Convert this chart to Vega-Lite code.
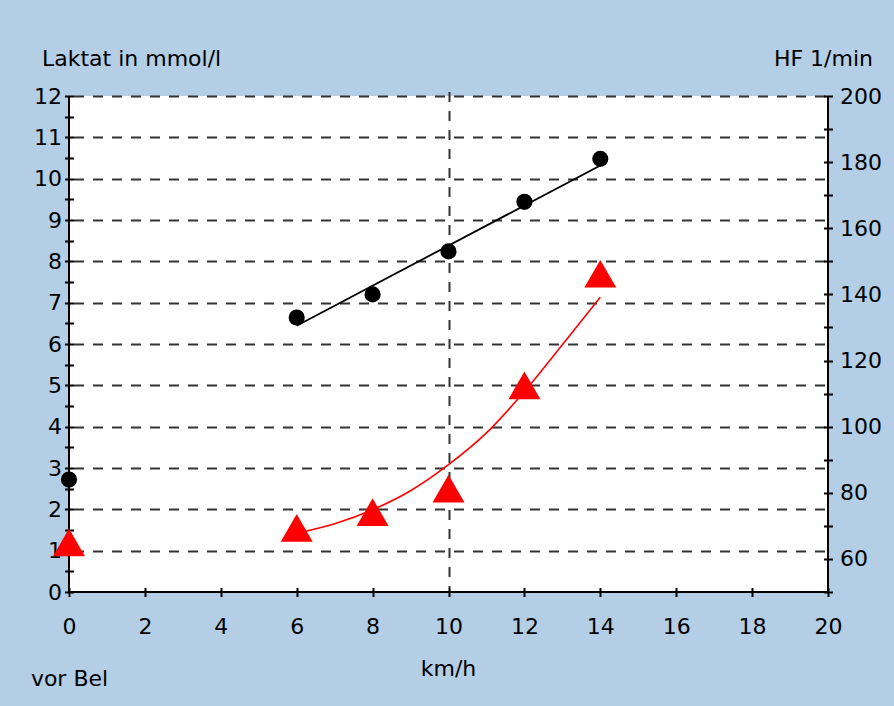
{
  "$schema": "https://vega.github.io/schema/vega-lite/v6.json",
  "width": 759,
  "height": 496,
  "autosize": {"type": "none"},
  "padding": {"left": 69, "top": 96, "right": 66, "bottom": 114},
  "background": "#b4cee6",
  "config": {
    "view": {"fill": "white", "stroke": null},
    "font": "DejaVu Sans",
    "axis": {
      "labelFont": "DejaVu Sans",
      "titleFont": "DejaVu Sans",
      "labelFontSize": 22,
      "titleFontSize": 22,
      "labelColor": "black",
      "titleColor": "black",
      "titleFontWeight": "normal",
      "tickColor": "black",
      "tickWidth": 2,
      "tickSize": 9,
      "domain": false,
      "offset": -4.5,
      "gridColor": "#333333",
      "gridWidth": 2,
      "gridDash": [10, 9],
      "labelOverlap": false,
      "labelFlush": false
    }
  },
  "datasets": {
    "lactate": [
      {"kmh": 0, "laktat": 1.2},
      {"kmh": 6, "laktat": 1.55},
      {"kmh": 8, "laktat": 1.93},
      {"kmh": 10, "laktat": 2.5},
      {"kmh": 12, "laktat": 5.0},
      {"kmh": 14, "laktat": 7.7}
    ],
    "lactateCurve": [
      {"kmh": 6, "laktat": 1.42},
      {"kmh": 7, "laktat": 1.65},
      {"kmh": 8, "laktat": 1.99},
      {"kmh": 9, "laktat": 2.45},
      {"kmh": 10, "laktat": 3.08},
      {"kmh": 11, "laktat": 3.85},
      {"kmh": 12, "laktat": 4.85},
      {"kmh": 13, "laktat": 5.98},
      {"kmh": 14, "laktat": 7.13}
    ],
    "hf": [
      {"kmh": 0, "hf": 84},
      {"kmh": 6, "hf": 133},
      {"kmh": 8, "hf": 140},
      {"kmh": 10, "hf": 153},
      {"kmh": 12, "hf": 168},
      {"kmh": 14, "hf": 181}
    ],
    "hfFit": [
      {"kmh": 6, "hf": 130.5},
      {"kmh": 14, "hf": 179}
    ]
  },
  "layer": [
    {
      "data": {"name": "lactateCurve"},
      "mark": {"type": "line", "color": "#ff0000", "strokeWidth": 1.6, "interpolate": "monotone"},
      "encoding": {
        "x": {
          "field": "kmh",
          "type": "quantitative",
          "scale": {"domain": [0, 20], "nice": false, "zero": false},
          "axis": {
            "values": [0, 1, 2, 3, 4, 5, 6, 7, 8, 9, 10, 11, 12, 13, 14, 15, 16, 17, 18, 19, 20],
            "labelExpr": "datum.value == 0 ? ['0', 'vor Bel'] : (datum.value % 2 == 0 ? format(datum.value, 'd') : '')",
            "labelPadding": 20,
            "labelLineHeight": 52,
            "grid": true,
            "gridOpacity": {"condition": {"test": "datum.value == 10", "value": 1}, "value": 0},
            "title": "km/h",
            "titleX": 379,
            "titleY": 88,
            "titleAlign": "center",
            "titleBaseline": "alphabetic"
          }
        },
        "y": {
          "field": "laktat",
          "type": "quantitative",
          "scale": {"domain": [0, 12], "nice": false},
          "axis": {
            "orient": "left",
            "values": [0, 0.5, 1, 1.5, 2, 2.5, 3, 3.5, 4, 4.5, 5, 5.5, 6, 6.5, 7, 7.5, 8, 8.5, 9, 9.5, 10, 10.5, 11, 11.5, 12],
            "labelExpr": "datum.value % 1 == 0 ? format(datum.value, 'd') : ''",
            "labelPadding": 3,
            "grid": true,
            "gridOpacity": {"condition": {"test": "datum.value % 1 == 0 && datum.value > 0", "value": 1}, "value": 0},
            "title": "Laktat in mmol/l",
            "titleAngle": 0,
            "titleAlign": "left",
            "titleBaseline": "alphabetic",
            "titleX": -32,
            "titleY": -31
          }
        }
      }
    },
    {
      "data": {"values": [{}]},
      "mark": {"type": "rule", "color": "black", "strokeWidth": 2},
      "encoding": {"x": {"datum": 0, "type": "quantitative"}}
    },
    {
      "data": {"values": [{}]},
      "mark": {"type": "rule", "color": "black", "strokeWidth": 2},
      "encoding": {"x": {"datum": 20, "type": "quantitative"}}
    },
    {
      "data": {"values": [{}]},
      "mark": {"type": "rule", "color": "black", "strokeWidth": 2},
      "encoding": {"y": {"datum": 0, "type": "quantitative", "scale": {"domain": [0, 12], "nice": false}, "axis": null}}
    },
    {
      "data": {"name": "lactate"},
      "mark": {"type": "point", "shape": "triangle-up", "filled": true, "color": "#ff0000", "size": 1024, "opacity": 1},
      "encoding": {
        "x": {"field": "kmh", "type": "quantitative"},
        "y": {"field": "laktat", "type": "quantitative", "scale": {"domain": [0, 12], "nice": false}, "axis": null}
      }
    },
    {
      "data": {"name": "hfFit"},
      "mark": {"type": "line", "color": "black", "strokeWidth": 1.8},
      "encoding": {
        "x": {"field": "kmh", "type": "quantitative"},
        "y": {
          "field": "hf",
          "type": "quantitative",
          "scale": {"domain": [50, 200], "nice": false, "zero": false},
          "axis": {
            "orient": "right",
            "values": [50, 60, 70, 80, 90, 100, 110, 120, 130, 140, 150, 160, 170, 180, 190, 200],
            "labelExpr": "datum.value % 20 == 0 ? format(datum.value, 'd') : ''",
            "labelPadding": 7,
            "grid": false,
            "title": "HF 1/min",
            "titleAngle": 0,
            "titleAlign": "right",
            "titleBaseline": "alphabetic",
            "titleX": 49,
            "titleY": -31
          }
        }
      }
    },
    {
      "data": {"name": "hf"},
      "mark": {"type": "circle", "color": "black", "size": 260, "opacity": 1},
      "encoding": {
        "x": {"field": "kmh", "type": "quantitative"},
        "y": {"field": "hf", "type": "quantitative", "scale": {"domain": [50, 200], "nice": false, "zero": false}, "axis": null}
      }
    }
  ],
  "resolve": {"scale": {"y": "independent"}}
}
